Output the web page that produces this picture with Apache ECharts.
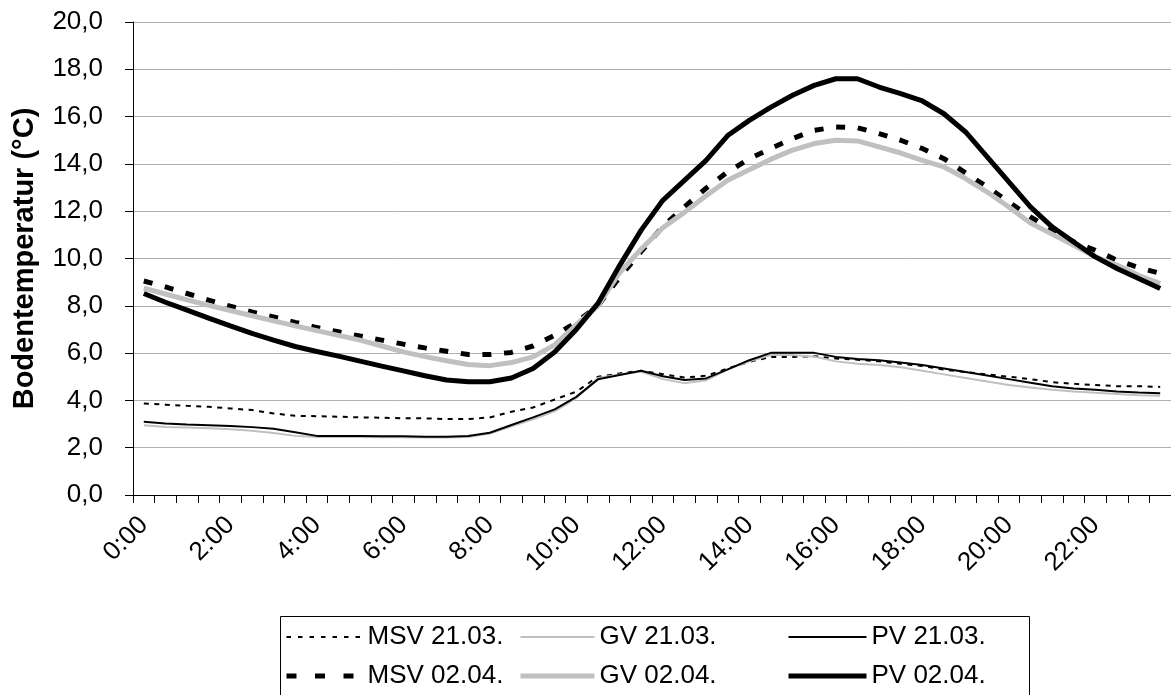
<!DOCTYPE html>
<html>
<head>
<meta charset="utf-8">
<script src="https://cdn.jsdelivr.net/npm/echarts@6/dist/echarts.min.js"></script>
<style>
  html, body { margin: 0; padding: 0; background: #fff; }
  #chart { width: 1171px; height: 695px; }
</style>
</head>
<body>
<div id="chart"></div>
<script>
// Zeitachse (halbstündlich)
const times = [
  "0:00", "0:30", "1:00", "1:30", "2:00", "2:30", "3:00", "3:30",
  "4:00", "4:30", "5:00", "5:30", "6:00", "6:30", "7:00", "7:30",
  "8:00", "8:30", "9:00", "9:30", "10:00", "10:30", "11:00", "11:30",
  "12:00", "12:30", "13:00", "13:30", "14:00", "14:30", "15:00", "15:30",
  "16:00", "16:30", "17:00", "17:30", "18:00", "18:30", "19:00", "19:30",
  "20:00", "20:30", "21:00", "21:30", "22:00", "22:30", "23:00", "23:30"
]

const yMin = 0
const yMax = 20
const yStep = 2

// Bodentemperatur 21.03.
const msv2103 = [
  3.87, 3.82, 3.77, 3.73, 3.66, 3.59, 3.45, 3.35, 3.33, 3.31, 3.28, 3.27,
  3.24, 3.24, 3.21, 3.21, 3.28, 3.52, 3.70, 4.04, 4.37, 5.00, 5.14, 5.25,
  5.11, 4.97, 5.04, 5.35, 5.63, 5.84, 5.84, 5.87, 5.77, 5.72, 5.65, 5.55,
  5.45, 5.30, 5.20, 5.10, 5.00, 4.90, 4.77, 4.70, 4.65, 4.60, 4.60, 4.57
]
const gv2103 = [
  2.95, 2.88, 2.85, 2.82, 2.78, 2.72, 2.62, 2.50, 2.45, 2.45, 2.45, 2.44,
  2.44, 2.43, 2.43, 2.45, 2.60, 2.90, 3.20, 3.55, 4.10, 4.95, 5.10, 5.22,
  4.90, 4.73, 4.85, 5.30, 5.65, 5.92, 5.92, 5.85, 5.65, 5.55, 5.50, 5.40,
  5.25, 5.10, 4.95, 4.80, 4.65, 4.55, 4.45, 4.38, 4.32, 4.27, 4.22, 4.20
]
const pv2103 = [
  3.10, 3.02, 2.98, 2.95, 2.92, 2.87, 2.80, 2.65, 2.50, 2.50, 2.49, 2.48,
  2.48, 2.46, 2.46, 2.49, 2.63, 2.96, 3.28, 3.62, 4.15, 4.89, 5.07, 5.25,
  5.02, 4.86, 4.93, 5.31, 5.70, 6.01, 6.01, 6.01, 5.84, 5.75, 5.70, 5.60,
  5.50, 5.35, 5.20, 5.05, 4.90, 4.75, 4.60, 4.50, 4.45, 4.38, 4.33, 4.30
]

// Bodentemperatur 02.04.
const msv0204 = [
  9.05, 8.80, 8.52, 8.24, 7.98, 7.74, 7.53, 7.30, 7.08, 6.90, 6.72, 6.55,
  6.38, 6.22, 6.08, 5.94, 5.94, 6.03, 6.30, 6.75, 7.30, 8.00, 9.20, 10.30,
  11.35, 12.18, 12.97, 13.66, 14.22, 14.65, 15.07, 15.42, 15.56, 15.53, 15.28, 15.00,
  14.65, 14.22, 13.62, 13.03, 12.39, 11.76, 11.20, 10.70, 10.35, 9.93, 9.62, 9.37
]
const gv0204 = [
  8.75, 8.50, 8.25, 8.02, 7.80, 7.58, 7.36, 7.15, 6.95, 6.75, 6.55, 6.30,
  6.05, 5.85, 5.68, 5.52, 5.47, 5.60, 5.84, 6.35, 7.20, 8.00, 9.40, 10.40,
  11.30, 11.95, 12.65, 13.31, 13.75, 14.20, 14.58, 14.86, 15.00, 14.97, 14.72, 14.46,
  14.15, 13.87, 13.38, 12.81, 12.18, 11.50, 11.03, 10.56, 10.07, 9.72, 9.29, 8.94
]
const pv0204 = [
  8.52, 8.15, 7.82, 7.48, 7.15, 6.83, 6.55, 6.28, 6.07, 5.87, 5.66, 5.45,
  5.25, 5.04, 4.86, 4.79, 4.79, 4.95, 5.35, 6.05, 7.00, 8.10, 9.70, 11.20,
  12.46, 13.30, 14.15, 15.20, 15.84, 16.40, 16.90, 17.32, 17.60, 17.60, 17.25, 16.97,
  16.66, 16.12, 15.35, 14.30, 13.24, 12.18, 11.34, 10.70, 10.07, 9.58, 9.15, 8.73
]

const FONT = "Liberation Sans"
const GREY = "#c0c0c0"

// Linienstile je Reihe
const styles = {
  "MSV 21.03.": { color: "#000", width: 2, type: [5, 5.5] },
  "GV 21.03.": { color: GREY, width: 2, type: "solid" },
  "PV 21.03.": { color: "#000", width: 2, type: "solid" },
  "MSV 02.04.": { color: "#000", width: 5, type: [9, 12.7] },
  "GV 02.04.": { color: GREY, width: 5, type: "solid" },
  "PV 02.04.": { color: "#000", width: 5, type: "solid" }
}

const seriesData = [
  ["MSV 21.03.", msv2103],
  ["GV 21.03.", gv2103],
  ["PV 21.03.", pv2103],
  ["MSV 02.04.", msv0204],
  ["GV 02.04.", gv0204],
  ["PV 02.04.", pv0204]
]

// Legende: andere Strichlängen als im Diagramm
const legendDash = {
  "MSV 21.03.": [4.5, 7],
  "MSV 02.04.": [10, 18.5]
}

const legendItem = (name) => {
  const s = styles[name]
  return {
    name: name,
    // kein Punktsymbol in der Legende
    itemStyle: { color: "rgba(0,0,0,0)", borderWidth: 0, opacity: 0 },
    lineStyle: { color: s.color, width: s.width, type: legendDash[name] || s.type }
  }
}

const makeLegend = (names, left, width) => ({
  orient: "vertical",
  left: left,
  top: 624,
  padding: 0,
  itemWidth: width,
  itemHeight: 14,
  itemGap: 13,
  selectedMode: false,
  data: names.map(legendItem),
  textStyle: { fontFamily: FONT, fontSize: 26, color: "#000" }
})

const chart = echarts.init(document.getElementById("chart"))

const option = {
  animation: false,
  backgroundColor: "#fff",
  textStyle: { fontFamily: FONT },
  grid: {
    left: 133,
    top: 22,
    width: 1040,
    height: 473
  },
  xAxis: {
    type: "category",
    data: times,
    boundaryGap: true,
    axisLine: { lineStyle: { color: "#000", width: 1 } },
    axisTick: { show: true, interval: 0, length: 8, lineStyle: { color: "#000" } },
    axisLabel: {
      interval: 3,
      rotate: 45,
      margin: 26,
      fontSize: 26,
      color: "#000",
      fontFamily: FONT
    },
    splitLine: { show: false }
  },
  yAxis: {
    type: "value",
    min: yMin,
    max: yMax,
    interval: yStep,
    name: "Bodentemperatur (°C)",
    nameLocation: "middle",
    nameGap: 94,
    nameTextStyle: { fontFamily: FONT, fontSize: 29, fontWeight: "bold", color: "#000" },
    axisLine: { show: true, lineStyle: { color: "#000", width: 1 } },
    axisTick: { show: true, length: 8, lineStyle: { color: "#000" } },
    axisLabel: {
      margin: 30,
      fontSize: 26,
      color: "#000",
      fontFamily: FONT,
      formatter: (v) => v.toFixed(1).replace(".", ",")
    },
    splitLine: { lineStyle: { color: "#b0b0b0", width: 1 } }
  },
  legend: [
    makeLegend(["MSV 21.03.", "MSV 02.04."], 284, 76),
    makeLegend(["GV 21.03.", "GV 02.04."], 518, 74),
    makeLegend(["PV 21.03.", "PV 02.04."], 786, 78)
  ],
  graphic: [
    {
      type: "rect",
      left: 278,
      top: 614,
      shape: { width: 749, height: 120 },
      style: { fill: "none", stroke: "#000", lineWidth: 1 },
      silent: true
    }
  ],
  series: seriesData.map(([name, data]) => ({
    name: name,
    type: "line",
    data: data,
    symbol: "none",
    smooth: false,
    lineStyle: styles[name],
    itemStyle: { color: styles[name].color },
    emphasis: { disabled: true }
  }))
}

chart.setOption(option)
</script>
</body>
</html>
